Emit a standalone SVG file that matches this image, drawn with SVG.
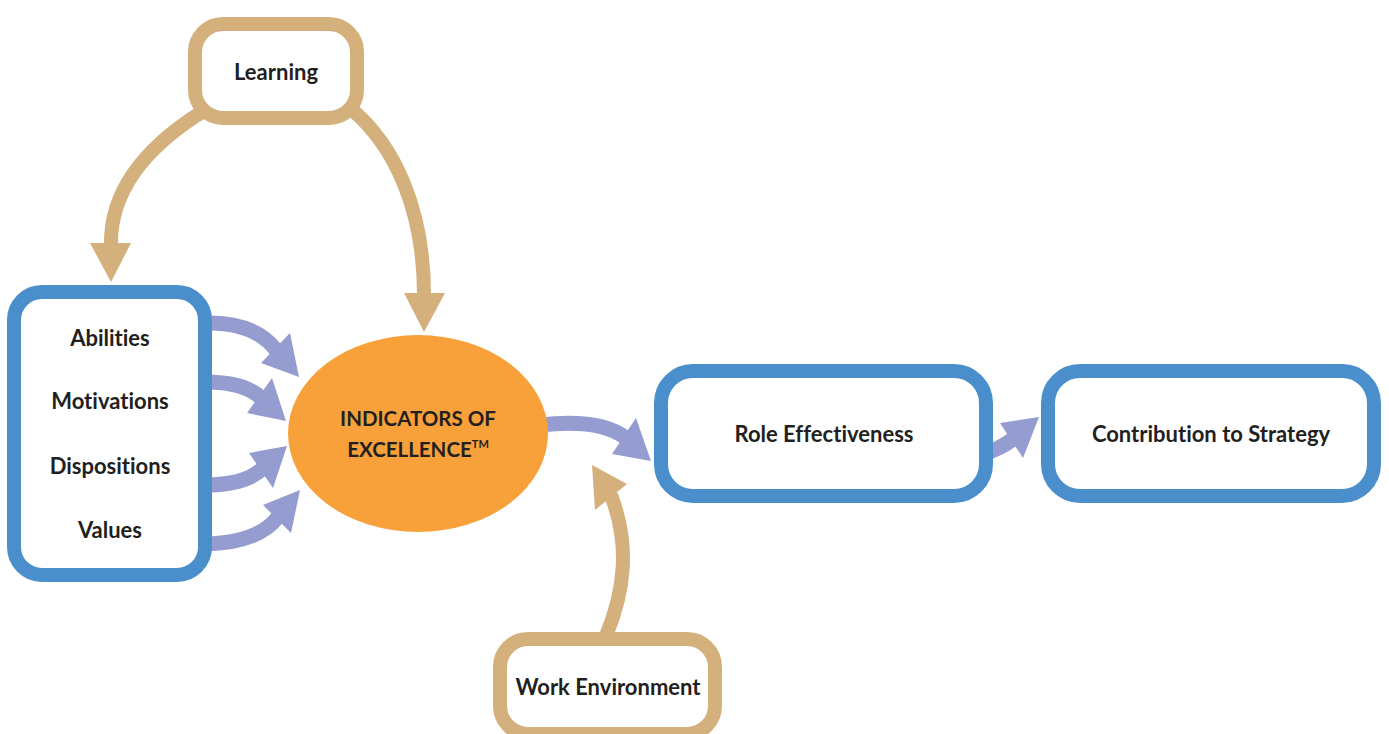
<svg xmlns="http://www.w3.org/2000/svg" width="1389" height="734" viewBox="0 0 1389 734">
  <style>
    .tan-line { fill: none; stroke: #D4B07D; stroke-width: 14; }
    .tan-head { fill: #D4B07D; }
    .flow-line { fill: none; stroke: #959CCF; stroke-width: 15; }
    .flow-head { fill: #959CCF; }
    .blue-box { fill: #FFFFFF; stroke: #4A8FCC; stroke-width: 14; }
    .tan-box { fill: #FFFFFF; stroke: #D4B07D; stroke-width: 14; }
    .label { font-family: Lato, "Open Sans", "Liberation Sans", sans-serif; font-weight: 700; font-size: 22px; fill: #231F20; text-anchor: middle; font-variant-ligatures: none; }
    .caps { font-size: 20.5px; }
  </style>
  <rect width="1389" height="734" fill="#FFFFFF"/>

  <g id="connectors">
    <!-- Learning feeds both the personal attributes and the indicators -->
    <path class="tan-line" d="M 205 110 C 140 150, 110 195, 111 245"/>
    <polygon class="tan-head" points="90,243 131,243 111,282"/>
    <path class="tan-line" d="M 350 108 C 395 145, 424 210, 424 295"/>
    <polygon class="tan-head" points="404,293 445,293 424,332"/>
    <!-- Work environment pushes up into the flow -->
    <path class="tan-line" d="M 606 636 C 625 590, 630 545, 611 495"/>
    <polygon class="tan-head" points="592,465 627,484 595,510"/>

    <!-- attributes into the indicators -->
    <path class="flow-line" d="M 205 323 Q 255 322 276 350"/>
    <polygon class="flow-head" points="290,333 299,377 261,363"/>
    <path class="flow-line" d="M 205 382 Q 245 382 261 398"/>
    <polygon class="flow-head" points="272,378 286,421 247,413"/>
    <path class="flow-line" d="M 205 485 Q 245 485 262 469"/>
    <polygon class="flow-head" points="249,453 287,446 273,488"/>
    <path class="flow-line" d="M 205 544 Q 258 543 278 517"/>
    <polygon class="flow-head" points="263,505 300,490 291,533"/>

    <!-- indicators to role, role to strategy -->
    <path class="flow-line" d="M 540 425 Q 600 418 626 438"/>
    <polygon class="flow-head" points="636,418 651,461 612,454"/>
    <path class="flow-line" d="M 985 453 Q 1000 449 1013 439"/>
    <polygon class="flow-head" points="1000,423 1039,417 1023,458"/>
  </g>

  <g id="learning">
    <rect class="tan-box" x="195" y="24" width="162" height="94" rx="28"/>
    <text class="label" x="276" y="80">Learning</text>
  </g>

  <g id="attributes">
    <rect class="blue-box" x="14" y="292" width="191" height="283" rx="28"/>
    <text class="label" x="110" y="346">Abilities</text>
    <text class="label" x="110" y="409">Motivations</text>
    <text class="label" x="110" y="474">Dispositions</text>
    <text class="label" x="110" y="538">Values</text>
  </g>

  <g id="indicators">
    <ellipse cx="418" cy="433.5" rx="130" ry="98.5" fill="#F8A13B"/>
    <text class="label caps" x="418" y="426">INDICATORS OF</text>
    <text class="label caps" x="418" y="457">EXCELLENCE<tspan font-size="11" dy="-9">TM</tspan></text>
  </g>

  <g id="role-effectiveness">
    <rect class="blue-box" x="661" y="371" width="325" height="125" rx="32"/>
    <text class="label" x="824" y="442">Role Effectiveness</text>
  </g>

  <g id="contribution">
    <rect class="blue-box" x="1048" y="371" width="326" height="125" rx="32"/>
    <text class="label" x="1211" y="442">Contribution to Strategy</text>
  </g>

  <g id="work-environment">
    <rect class="tan-box" x="500" y="639" width="215" height="95" rx="28"/>
    <text class="label" x="608" y="695">Work Environment</text>
  </g>
</svg>
